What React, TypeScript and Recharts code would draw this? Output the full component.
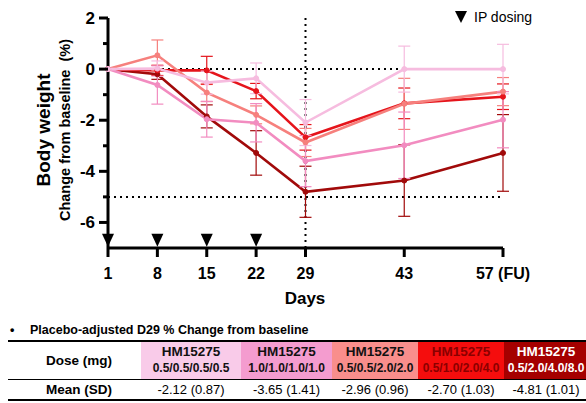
import React from "react"
import { ComposedChart, Line, Scatter, XAxis, YAxis, ErrorBar, ReferenceLine } from "recharts"

const days = [1, 8, 15, 22, 29, 43, 57]
const xTicks = [1, 8, 15, 22, 29, 43, 57]
const yTicks = [2, 1, 0, -1, -2, -3, -4, -5, -6]
const dosingDays = [1, 8, 15, 22]
const dosingMarkerY = -6.68

// mean % change from baseline, per dose group
const dose05x4 = [0, 0.02, -0.53, -0.36, -2.09, 0, 0]
const dose10x4 = [0, -0.62, -1.96, -2.1, -3.6, -2.98, -1.98]
const dose05to20 = [0, 0.54, -0.92, -1.79, -2.87, -1.36, -0.88]
const dose05to40 = [0, -0.05, -0.05, -0.86, -2.67, -1.34, -1.08]
const dose05to80 = [0, -0.2, -1.85, -3.28, -4.8, -4.36, -3.28]

// error bar half-lengths
const err05x4 = [0, 0.3, 0.45, 0.6, 0.9, 0.9, 0.97]
const err10x4 = [0, 0.75, 0.7, 0.75, 1.0, 1.3, 1.1]
const err05to20 = [0, 0.6, 0.35, 0.35, 0.55, 1.0, 0.55]
const err05to40 = [0, 0.2, 0.55, 0.3, 0.5, 0.6, 0.5]
const err05to80 = [0, 0.2, 0.45, 0.87, 1.0, 1.4, 1.5]

const doseLabels = ["0.5/0.5/0.5/0.5", "1.0/1.0/1.0/1.0", "0.5/0.5/2.0/2.0", "0.5/1.0/2.0/4.0", "0.5/2.0/4.0/8.0"]
const meanSd = ["-2.12 (0.87)", "-3.65 (1.41)", "-2.96 (0.96)", "-2.70 (1.03)", "-4.81 (1.01)"]

const LINE_COLORS = ["#f6bcdf", "#f28cc0", "#f6807d", "#e5141b", "#a10a0a"]
const CELL_COLORS = ["#f9cbe9", "#f49ccf", "#f98e8c", "#f50d0d", "#a50000"]
const CELL_TEXT = ["#111", "#111", "#111", "#8a0000", "#ffffff"]
const COL_WIDTHS = [100, 91, 86, 86, 84]

const FONT = '"Liberation Sans", Arial, sans-serif'

const rows = days.map((d, i) => ({
  day: d,
  a: dose05x4[i], aErr: err05x4[i],
  b: dose10x4[i], bErr: err10x4[i],
  c: dose05to20[i], cErr: err05to20[i],
  d: dose05to40[i], dErr: err05to40[i],
  e: dose05to80[i], eErr: err05to80[i],
}))

const dosing = dosingDays.map((d) => ({ day: d, y: dosingMarkerY }))

const seriesKeys = [
  { key: "e", idx: 4 },
  { key: "d", idx: 3 },
  { key: "c", idx: 2 },
  { key: "b", idx: 1 },
  { key: "a", idx: 0 },
]

const YTick = (props: any) => {
  const { x, y, payload } = props
  const v = payload.value as number
  const major = v % 2 === 0
  return (
    <g>
      <line x1={x - (major ? 9 : 5)} x2={x} y1={y} y2={y} stroke="#000" strokeWidth={3} />
      {major && (
        <text x={x - 13} y={y + 6} textAnchor="end" fontSize={17} fontWeight="bold" fontFamily={FONT} fill="#000">
          {v}
        </text>
      )}
    </g>
  )
}

const XTick = (props: any) => {
  const { x, y, payload } = props
  const v = payload.value as number
  return (
    <g>
      <line x1={x} x2={x} y1={y} y2={y + 9} stroke="#000" strokeWidth={3} />
      <text x={x} y={y + 31} textAnchor="middle" fontSize={16} fontWeight="bold" fontFamily={FONT} fill="#000">
        {v === 57 ? "57 (FU)" : v}
      </text>
    </g>
  )
}

const Triangle = (props: any) => {
  const { cx, cy } = props
  return <path d={`M${cx - 6},${cy - 6} L${cx + 6},${cy - 6} L${cx},${cy + 7} Z`} fill="#000" />
}

export default function App() {
  return (
    <div style={{ position: "relative", width: 586, height: 403, overflow: "hidden", fontFamily: FONT, background: "#fff" }}>
      <style>{`body{margin:0}`}</style>
      <div style={{ position: "absolute", left: 0, top: 0 }}>
        <ComposedChart width={586} height={308} data={rows} margin={{ top: 18, right: 83, left: 0, bottom: 0 }}>
          <ReferenceLine y={0} stroke="#000" strokeWidth={2} strokeDasharray="2 4" />
          <ReferenceLine y={-5} stroke="#000" strokeWidth={2} strokeDasharray="2 4" />
          <ReferenceLine x={29} stroke="#000" strokeWidth={2} strokeDasharray="2 4" />
          <XAxis
            dataKey="day"
            type="number"
            domain={[1, 57]}
            ticks={xTicks}
            interval={0}
            height={60}
            tickSize={0}
            tickMargin={0}
            tickLine={false}
            axisLine={{ stroke: "#000", strokeWidth: 3 }}
            tick={<XTick />}
          />
          <YAxis
            type="number"
            domain={[-7, 2]}
            ticks={yTicks}
            interval={0}
            width={108}
            tickSize={0}
            tickMargin={0}
            tickLine={false}
            axisLine={{ stroke: "#000", strokeWidth: 3 }}
            tick={<YTick />}
          />
          {seriesKeys.map(({ key, idx }) => (
            <Line
              key={key}
              dataKey={key}
              stroke={LINE_COLORS[idx]}
              strokeWidth={2.6}
              dot={{ r: 2.5, fill: LINE_COLORS[idx], stroke: LINE_COLORS[idx], strokeWidth: 1 }}
              isAnimationActive={false}
            >
              <ErrorBar dataKey={key + "Err"} direction="y" width={6} stroke={LINE_COLORS[idx]} strokeWidth={1.2} />
            </Line>
          ))}
          <Scatter data={dosing} dataKey="y" shape={<Triangle />} isAnimationActive={false} />
        </ComposedChart>
      </div>

      <svg width={586} height={310} style={{ position: "absolute", left: 0, top: 0, pointerEvents: "none" }}>
        <text
          transform="translate(50,130) rotate(-90)"
          textAnchor="middle"
          fontSize={19}
          fontWeight="bold"
          fontFamily={FONT}
          fill="#000"
        >
          Body weight
        </text>
        <text
          transform="translate(70,130) rotate(-90)"
          textAnchor="middle"
          fontSize={14.5}
          fontWeight="bold"
          fontFamily={FONT}
          fill="#000"
          xmlSpace="preserve"
        >
          {"Change from baseline  (%)"}
        </text>
        <text x={305} y={304} textAnchor="middle" fontSize={17} fontWeight="bold" fontFamily={FONT} fill="#000">
          Days
        </text>
        <path d="M455,11 L467,11 L461,23 Z" fill="#000" />
        <text x={474} y={22} fontSize={14} fontFamily={FONT} fill="#000">
          IP dosing
        </text>
      </svg>

      <div style={{ position: "absolute", left: 10, top: 323, fontSize: 12.5, fontWeight: "bold", color: "#000", whiteSpace: "nowrap" }}>
        <span style={{ display: "inline-block", width: 20 }}>•</span>Placebo-adjusted D29 % Change from baseline
      </div>

      <table
        style={{
          position: "absolute",
          left: 8,
          top: 340,
          width: 578,
          borderCollapse: "collapse",
          tableLayout: "fixed",
          fontFamily: FONT,
          borderTop: "2px solid #000",
          borderBottom: "2px solid #000",
        }}
      >
        <colgroup>
          <col style={{ width: 133 }} />
          {COL_WIDTHS.map((w, i) => (
            <col key={i} style={{ width: w }} />
          ))}
        </colgroup>
        <tbody>
          <tr style={{ height: 38, borderBottom: "1.5px solid #000" }}>
            <td style={{ textAlign: "center", fontWeight: "bold", fontSize: 13.5, paddingLeft: 10 }}>Dose (mg)</td>
            {doseLabels.map((lab, i) => (
              <td
                key={i}
                style={{
                  background: CELL_COLORS[i],
                  color: CELL_TEXT[i],
                  textAlign: "center",
                  fontWeight: "bold",
                  lineHeight: "16px",
                  padding: 0,
                  whiteSpace: "nowrap",
                }}
              >
                <div style={{ fontSize: 13.5 }}>HM15275</div>
                <div style={{ fontSize: 12 }}>{lab}</div>
              </td>
            ))}
          </tr>
          <tr style={{ height: 21 }}>
            <td style={{ textAlign: "center", fontWeight: "bold", fontSize: 13.5, paddingLeft: 10 }}>Mean (SD)</td>
            {meanSd.map((m, i) => (
              <td key={i} style={{ textAlign: "center", fontSize: 13, padding: 0, whiteSpace: "nowrap" }}>
                {m}
              </td>
            ))}
          </tr>
        </tbody>
      </table>
    </div>
  )
}
